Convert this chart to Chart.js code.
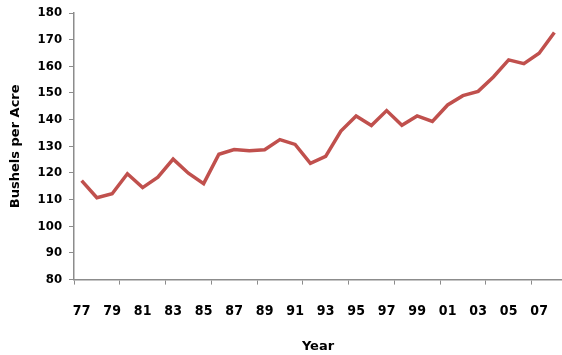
<!DOCTYPE html>
<html>
<head>
<meta charset="utf-8">
<script src="https://cdn.jsdelivr.net/npm/chart.js@4"></script>
<style>
  html, body { margin: 0; padding: 0; background: #fff; }
  #wrap { width: 562px; height: 355px; }
</style>
</head>
<body>
<div id="wrap"><canvas id="yieldChart"></canvas></div>
<script>
// anni (etichette asse x)
const years = ['77', '78', '79', '80', '81', '82', '83', '84', '85', '86', '87',
    '88', '89', '90', '91', '92', '93', '94', '95', '96', '97', '98', '99',
    '00', '01', '02', '03', '04', '05', '06', '07', '08'];
// resa in bushels per acre
const bushelsPerAcre = [117.1, 110.7, 112.2, 119.7, 114.5, 118.4, 125.2, 119.9, 116.0,
    127.0, 128.8, 128.3, 128.7, 132.5, 130.7, 123.6, 126.2, 135.7, 141.4, 137.8,
    143.4, 137.9, 141.4, 139.3, 145.5, 149.0, 150.6, 156.0, 162.4, 161.0, 164.9, 172.7];
// scala asse y
const yMin = 80;
const yMax = 180;
const yStep = 10;

const axisGray = '#8c8c8c';
const lineRed = '#c0504d';
const labelFont = "'DejaVu Sans Condensed', 'DejaVu Sans', sans-serif";

document.addEventListener('DOMContentLoaded', function() {
    const ctx = document.getElementById('yieldChart').getContext('2d');
    new Chart(ctx, {
        type: 'line',
        data: {
            labels: years,
            datasets: [{
                label: 'Bushels per Acre',
                data: bushelsPerAcre,
                borderColor: lineRed,
                backgroundColor: lineRed,
                borderWidth: 3.5,
                pointRadius: 0,
                tension: 0,
                fill: false
            }]
        },
        options: {
            responsive: true,
            maintainAspectRatio: false,
            animation: false,
            layout: {
                padding: { left: 6, right: -3, top: 0, bottom: 1 }
            },
            scales: {
                x: {
                    offset: true,
                    // il grafico originale arriva fino al bordo destro
                    afterFit: s => { s.paddingRight = -3; },
                    grid: {
                        offset: true,
                        drawOnChartArea: false,
                        tickLength: 5,
                        // tacche ogni 3 anni, come nell'originale
                        color: c => (c.index !== undefined && c.index % 3 === 0) ? axisGray : 'rgba(0,0,0,0)'
                    },
                    border: { color: axisGray, width: 1.5 },
                    ticks: {
                        autoSkip: false,
                        maxRotation: 0,
                        padding: 18,
                        color: '#000',
                        font: { family: labelFont, weight: 'bold', size: 14 },
                        callback: function(value, index) {
                            return index % 2 === 0 ? this.getLabelForValue(value) : '';
                        }
                    },
                    title: {
                        display: true,
                        text: 'Year',
                        color: '#000',
                        font: { family: 'DejaVu Sans', weight: 'bold', size: 13 },
                        padding: { top: 1, bottom: 0 }
                    }
                },
                y: {
                    min: yMin,
                    max: yMax,
                    afterFit: s => { s.paddingTop = 13; },
                    grid: {
                        drawOnChartArea: false,
                        tickLength: 5,
                        color: axisGray
                    },
                    border: { color: axisGray, width: 1.5 },
                    ticks: {
                        stepSize: yStep,
                        padding: 7,
                        color: '#000',
                        font: { family: labelFont, weight: 'bold', size: 13 }
                    },
                    title: {
                        display: true,
                        text: 'Bushels per Acre',
                        color: '#000',
                        font: { family: 'DejaVu Sans', weight: 'bold', size: 13 },
                        padding: { top: 2, bottom: 7 }
                    }
                }
            },
            plugins: {
                legend: { display: false },
                tooltip: { enabled: false }
            }
        }
    });
});
</script>
</body>
</html>
